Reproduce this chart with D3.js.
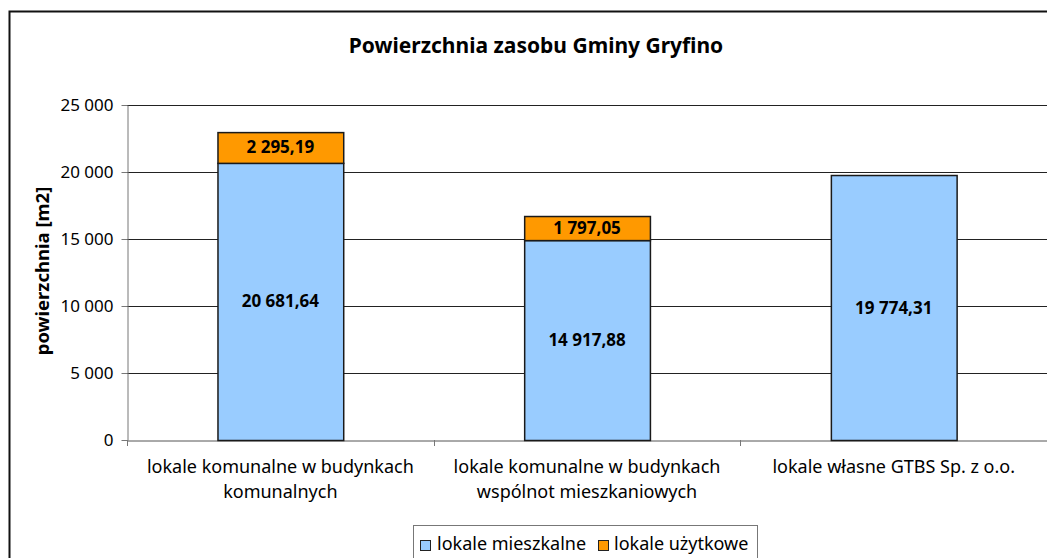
<!DOCTYPE html>
<html><head><meta charset="utf-8">
<script src="https://cdn.jsdelivr.net/npm/d3@7"></script>
<style>
body{margin:0;background:#fff;}
text{font-family:"Noto Sans","Open Sans",sans-serif;}
</style></head>
<body><svg id="c" width="1047" height="558"></svg>
<script>
const categories = [
  ["lokale komunalne w budynkach","komunalnych"],
  ["lokale komunalne w budynkach","wspólnot mieszkaniowych"],
  ["lokale własne GTBS Sp. z o.o."]
];
const seriesNames = ["lokale mieszkalne","lokale użytkowe"];
const mieszkalne = [20681.64, 14917.88, 19774.31];
const uzytkowe = [2295.19, 1797.05, 0];
const yTicks = [0,5000,10000,15000,20000,25000];
const colors = ["#99CCFF","#FF9900"];

const loc = d3.formatLocale({decimal:",", thousands:"\u00a0", grouping:[3], currency:["",""]});
const fmtTick = loc.format(",.0f");
const fmtVal = loc.format(",.2f");

const svg = d3.select("#c");
svg.append("rect").attr("x",9.5).attr("y",11.5).attr("width",1060).attr("height",560)
  .attr("fill","#fff").attr("stroke","#111").attr("stroke-width",2);

const pL=127, pR=1047, pT=105, pB=440, catW=306.7;
const x = d3.scaleBand().domain(d3.range(3)).range([pL, pL+3*catW]).paddingInner(0.59).paddingOuter(0.295);
const xTickScale = d3.scaleBand().domain(d3.range(3)).range([pL, pL+3*catW]);
const y = d3.scaleLinear().domain([0,25000]).range([pB, pT]);

svg.append("g").selectAll("line").data(yTicks.slice(1)).join("line")
  .attr("x1",pL).attr("x2",pR+20).attr("y1",d=>Math.round(y(d))+0.5).attr("y2",d=>Math.round(y(d))+0.5)
  .attr("stroke","#222").attr("stroke-width",1);

const ya = svg.append("g").attr("transform",`translate(${pL+0.5},0)`)
  .call(d3.axisLeft(y).tickValues(yTicks).tickFormat(fmtTick).tickSize(6).tickSizeOuter(0));
ya.select(".domain").attr("stroke","#777");
ya.selectAll(".tick line").attr("stroke","#777");
ya.selectAll("text").attr("font-size",17).attr("fill","#000").attr("x",-14).attr("font-family","Noto Sans");

const xa = svg.append("g").attr("transform",`translate(0,${pB+0.5})`)
  .call(d3.axisBottom(xTickScale).tickValues([]).tickSizeOuter(0));
xa.select(".domain").attr("stroke","#555");
svg.append("g").selectAll("line").data(d3.range(4)).join("line")
  .attr("x1",i=>Math.round(pL+i*catW)+0.5).attr("x2",i=>Math.round(pL+i*catW)+0.5)
  .attr("y1",pB).attr("y2",pB+6).attr("stroke","#777");

categories.forEach((lines,i)=>{
  const cx = xTickScale(i)+xTickScale.bandwidth()/2;
  const t = svg.append("text").attr("x",cx).attr("y",473)
    .attr("text-anchor","middle").attr("font-size",18).attr("fill","#000");
  lines.forEach((l,k)=>t.append("tspan").attr("x",cx).attr("dy",k?25:0).text(l));
});

const stackData = categories.map((c,i)=>({i, m:mieszkalne[i], u:uzytkowe[i]}));
const stack = d3.stack().keys(["m","u"])(stackData);
stack.forEach((s,si)=>{
  svg.append("g").selectAll("rect").data(s.filter(d=>d[1]-d[0]>0)).join("rect")
    .attr("x",d=>x(d.data.i)+0.5).attr("width",x.bandwidth())
    .attr("y",d=>y(d[1])+0.5).attr("height",d=>y(d[0])-y(d[1]))
    .attr("fill",colors[si]).attr("stroke","#1a1a1a").attr("stroke-width",1.5);
  svg.append("g").selectAll("text").data(s.filter(d=>d[1]-d[0]>0)).join("text")
    .attr("x",d=>x(d.data.i)+x.bandwidth()/2).attr("y",d=>(y(d[0])+y(d[1]))/2+6)
    .attr("text-anchor","middle").attr("font-size",17).attr("font-weight","bold").attr("fill","#000")
    .text(d=>fmtVal(d[1]-d[0]));
});

svg.append("text").attr("x",536).attr("y",53).attr("text-anchor","middle")
  .attr("font-size",21).attr("font-weight","bold").text("Powierzchnia zasobu Gminy Gryfino");
svg.append("text").attr("transform","translate(49,271) rotate(-90)").attr("text-anchor","middle")
  .attr("font-size",18.5).attr("font-weight","bold").text("powierzchnia [m2]");

const lg = svg.append("g");
lg.append("rect").attr("x",413.5).attr("y",525.5).attr("width",344).attr("height",40)
  .attr("fill","#fff").attr("stroke","#777").attr("stroke-width",1);
const items = [{x:420, tx:437},{x:598, tx:614}];
seriesNames.forEach((n,i)=>{
  lg.append("rect").attr("x",items[i].x+0.5).attr("y",540.5).attr("width",10).attr("height",10)
    .attr("fill",colors[i]).attr("stroke","#222");
  lg.append("text").attr("x",items[i].tx).attr("y",550).attr("font-size",18).text(n);
});
</script></body></html>
